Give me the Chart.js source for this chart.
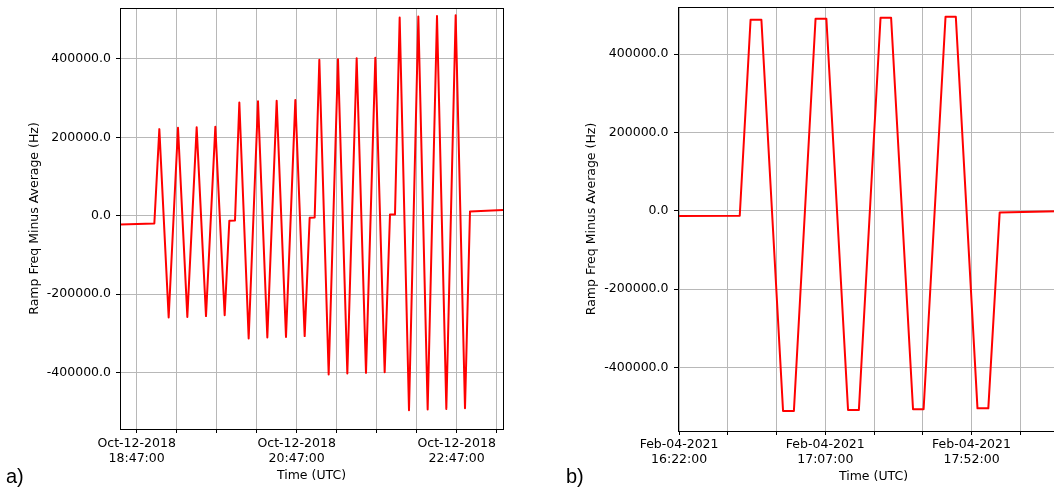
<!DOCTYPE html>
<html>
<head>
<meta charset="utf-8">
<script src="https://cdn.jsdelivr.net/npm/chart.js@4.4.1/dist/chart.umd.min.js"></script>
<style>
  html, body { margin: 0; padding: 0; background: #fff; overflow: hidden; }
  body { width: 1054px; height: 491px; position: relative; }
  .panel { position: absolute; top: 0; height: 491px; }
  #panelA { left: 0; width: 510px; }
  #panelB { left: 540px; width: 540px; }
  .tag { position: absolute; font-family: "Liberation Sans", Arial, sans-serif; font-size: 20px; color: #000; }
</style>
</head>
<body>
<div class="panel" id="panelA"><canvas id="chartA"></canvas></div>
<div class="panel" id="panelB"><canvas id="chartB"></canvas></div>
<div class="tag" style="left:6px; top:465px;">a)</div>
<div class="tag" style="left:566px; top:465px;">b)</div>
<script>
// panel a) Oct-12-2018, times in UTC
const timesA = [
  "18:34:30", "19:00:15", "19:04:00", "19:11:00", "19:18:00", "19:25:00",
  "19:32:00", "19:39:00", "19:46:00", "19:53:00", "19:56:30", "20:00:45",
  "20:04:00", "20:11:00", "20:18:00", "20:25:00", "20:32:00", "20:39:00",
  "20:46:00", "20:53:00", "20:56:45", "21:00:30", "21:04:00", "21:11:00",
  "21:18:00", "21:25:00", "21:32:00", "21:39:00", "21:46:00", "21:53:00",
  "21:57:00", "22:00:45", "22:04:15", "22:11:15", "22:18:15", "22:25:15",
  "22:32:15", "22:39:15", "22:46:15", "22:53:15", "22:57:00", "23:21:45"
];
const valuesA = [
  -22000, -19600, 221000, -259600, 224700, -258000,
  225500, -256000, 227000, -254000, -12800, -12000,
  289000, -313000, 292000, -310600, 293600, -309000,
  295000, -307000, -5100, -4300, 398000, -405000,
  399000, -402500, 401700, -400800, 403400, -399000,
  3400, 3400, 505500, -496000, 508000, -494400,
  509700, -492700, 511400, -491000, 11000, 14500
];

// panel b) Feb-04-2021, times in UTC
const timesB = [
  "16:21:40", "16:40:40", "16:44:00", "16:47:20", "16:54:00", "16:57:20",
  "17:04:00", "17:07:20", "17:14:00", "17:17:20", "17:24:00", "17:27:15",
  "17:34:00", "17:37:15", "17:44:00", "17:47:10", "17:53:50", "17:57:10",
  "18:00:40", "18:22:00"
];
const valuesB = [
  -13600, -12800, 487600, 487600, -511500, -511500,
  490000, 490000, -509000, -509000, 492700, 492700,
  -507000, -507000, 495300, 495300, -504600, -504600,
  -4300, -1000
];

const yTicks = [-400000, -200000, 0, 200000, 400000];

Chart.defaults.font.family = "DejaVu Sans";
Chart.defaults.color = "#000";

function toMin(t) {
  const p = t.split(":").map(Number);
  return p[0] * 60 + p[1] + p[2] / 60;
}

function fmtTime(m) {
  const h = Math.floor(m / 60);
  const mm = Math.round(m - h * 60);
  return String(h).padStart(2, "0") + ":" + String(mm).padStart(2, "0") + ":00";
}

const frame = {
  id: "frame",
  afterDraw(chart) {
    const { ctx, chartArea: a } = chart;
    ctx.save();
    ctx.strokeStyle = "#000";
    ctx.lineWidth = 1;
    ctx.strokeRect(Math.floor(a.left) + 0.5, Math.floor(a.top) + 0.5,
      Math.round(a.right - a.left), Math.round(a.bottom - a.top));
    ctx.restore();
  }
};

function makeChart(id, times, values, c) {
  const pts = times.map((t, i) => ({ x: toMin(t), y: values[i] }));
  const tick0 = toMin(c.firstTick);
  return new Chart(document.getElementById(id), {
    type: "line",
    data: {
      datasets: [{
        data: pts,
        borderColor: "#ff0000",
        borderWidth: 2,
        borderJoinStyle: "round",
        pointRadius: 0,
        tension: 0,
        fill: false
      }]
    },
    options: {
      responsive: true,
      maintainAspectRatio: false,
      animation: false,
      layout: { padding: c.padding },
      plugins: {
        legend: { display: false },
        tooltip: { enabled: false }
      },
      scales: {
        x: {
          type: "linear",
          min: toMin(c.xMin),
          max: toMin(c.xMax),
          border: { display: false },
          grid: { color: "#b8b8b8", lineWidth: 1, tickColor: "#000", tickLength: 4 },
          afterBuildTicks(scale) {
            const t = [];
            for (let v = tick0; v <= scale.max; v += c.step) t.push({ value: v });
            scale.ticks = t;
          },
          afterFit(scale) {
            scale.height = c.xAxisHeight;
            scale.paddingLeft = 0;
            scale.paddingRight = 0;
          },
          ticks: {
            autoSkip: false,
            maxRotation: 0,
            padding: c.xTickPad,
            font: { size: 12.5 },
            callback: (v) => ((v - tick0) % c.labelEvery === 0) ? [c.date, fmtTime(v)] : ""
          },
          title: {
            display: true,
            text: "Time (UTC)",
            font: { size: 12.5 },
            padding: { top: 0, bottom: c.xTitlePad }
          }
        },
        y: {
          min: c.yMin,
          max: c.yMax,
          border: { display: false },
          grid: { color: "#b8b8b8", lineWidth: 1, tickColor: "#000", tickLength: 4 },
          afterBuildTicks(scale) {
            scale.ticks = yTicks.map(v => ({ value: v }));
          },
          afterFit(scale) {
            scale.width = c.yAxisWidth;
            scale.paddingTop = 0;
            scale.paddingBottom = 0;
          },
          ticks: {
            padding: c.yTickPad,
            font: { size: 12.5 },
            callback: (v) => v.toFixed(1)
          },
          title: {
            display: true,
            text: "Ramp Freq Minus Average (Hz)",
            font: { size: 12.5 },
            padding: { top: c.yTitlePad, bottom: 0 }
          }
        }
      }
    },
    plugins: [frame]
  });
}

makeChart("chartA", timesA, valuesA, {
  date: "Oct-12-2018",
  xMin: "18:34:30", xMax: "23:21:45", firstTick: "18:47:00", step: 30, labelEvery: 120,
  yMin: -544000, yMax: 530000,
  padding: { top: 8, right: 7, left: 0, bottom: 0 },
  yAxisWidth: 120, xAxisHeight: 62,
  xTickPad: 3, xTitlePad: 7.5, yTickPad: 5, yTitlePad: 27.5
});

makeChart("chartB", timesB, valuesB, {
  date: "Feb-04-2021",
  xMin: "16:21:40", xMax: "18:22:00", firstTick: "16:22:00", step: 15, labelEvery: 45,
  yMin: -562500, yMax: 520100,
  padding: { top: 7, right: 11, left: 0, bottom: 0 },
  yAxisWidth: 138, xAxisHeight: 60,
  xTickPad: 2.5, xTitlePad: 7, yTickPad: 5.5, yTitlePad: 44
});
</script>
</body>
</html>
